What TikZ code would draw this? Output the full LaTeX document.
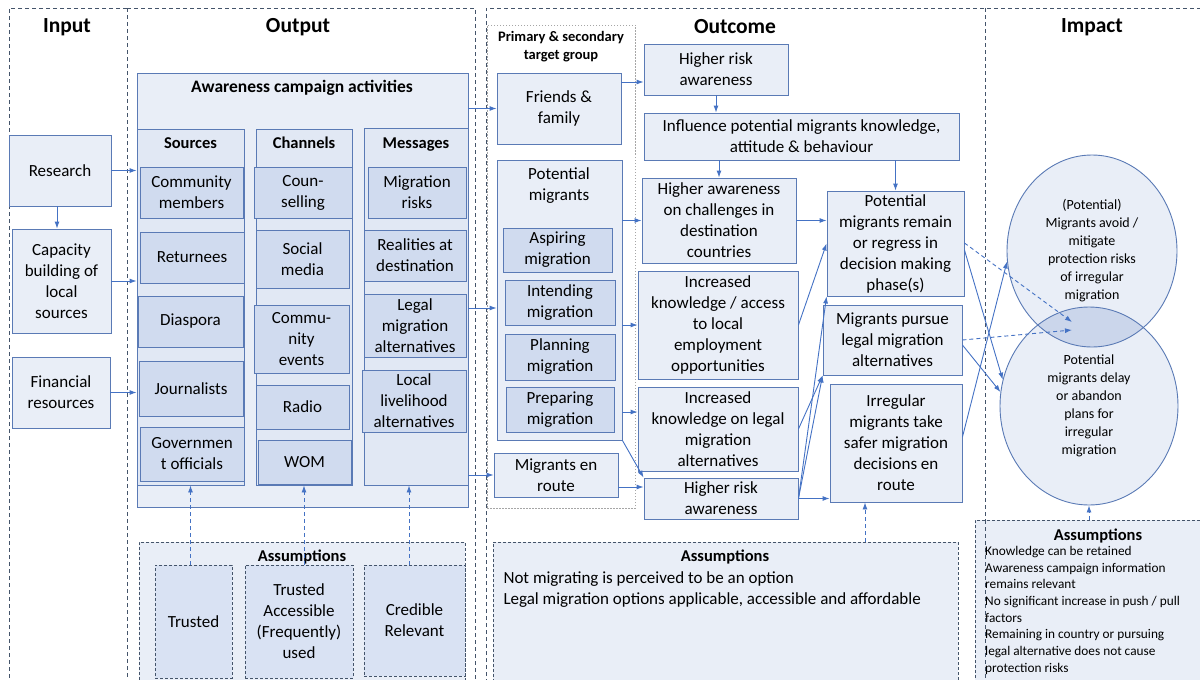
\documentclass[tikz,border=0pt]{standalone}
\usepackage{fontspec}
\setmainfont{Carlito}
\usepackage{xcolor}
\usetikzlibrary{arrows.meta}
\usetikzlibrary{shapes.geometric}

\definecolor{boxfill}{HTML}{E9EEF7}
\definecolor{colfill}{HTML}{E1E8F4}
\definecolor{itemfill}{HTML}{D0DBEF}
\definecolor{asmfill}{HTML}{D9E2F3}
\definecolor{ovlfill}{HTML}{CBD6EB}
\definecolor{boxline}{HTML}{5A7AB5}
\definecolor{arrowc}{HTML}{4472C4}
\definecolor{framec}{HTML}{44546A}

\tikzset{
  frame/.style={draw=framec, dash pattern=on 4pt off 3pt, line width=0.8pt},
  box/.style={draw=boxline, fill=boxfill, line width=0.9pt, align=center, inner xsep=1pt, inner ysep=0pt, font=\fontsize{17}{21}\selectfont},
  item/.style={box, fill=itemfill},
  col/.style={draw=boxline, fill=colfill, line width=0.9pt},
  hdr/.style={font=\fontsize{16.5}{20}\selectfont\bfseries, text height=11.5pt, text depth=3.5pt},
  ttl/.style={font=\fontsize{21.5}{25}\selectfont\bfseries},
  asm/.style={draw=framec, dash pattern=on 3pt off 2pt, fill=boxfill, line width=0.7pt},
  asmitem/.style={box, draw=framec, dash pattern=on 3pt off 2pt, fill=asmfill, line width=0.7pt},
  circ/.style={ellipse, draw=boxline, line width=0.9pt, inner sep=0pt, align=center, font=\fontsize{14}{18}\selectfont},
  arr/.style={draw=arrowc, line width=0.9pt, -{Latex[length=7pt,width=5pt]}},
  darr/.style={arr, dash pattern=on 4pt off 3pt},
  sz/.style 2 args={minimum width=#1pt, minimum height=#2pt},
}

\begin{document}
\begin{tikzpicture}[x=1pt,y=-1pt]
\useasboundingbox (0,0) rectangle (1200,680);

% column frames
\draw[frame] (127,8) -- (9,8) -- (9,690);
\draw[frame] (127,8) -- (127,690);
\draw[frame] (127,8) -- (475,8) -- (475,690);
\draw[frame] (486,690) -- (486,8) -- (1210,8);
\draw[frame] (985,8) -- (985,690);
\node[ttl] (tin) at (67,27) {Input};
\node[ttl] (tout) at (298,27) {Output};
\node[ttl] (toc) at (735,27) {Outcome};
\node[ttl] (timp) at (1092,27) {Impact};

% input
\node[box, sz={102}{71}] (research) at (60,170.5) {Research};
\node[box, sz={99}{104}] (capacity) at (61.5,281) {Capacity\\building of\\local\\sources};
\node[box, sz={98}{71}] (financial) at (61,392.5) {Financial\\resources};

% output
\node[box, sz={331}{434}] (camp) at (302.5,290) {};
\node[font=\fontsize{17.5}{20}\selectfont\bfseries] (campt) at (302,88) {Awareness campaign activities};
\node[col, sz={107}{356}] (sources) at (190.5,307) {};
\node[col, sz={96}{356}] (channels) at (304,307) {};
\node[col, sz={104}{357}] (messages) at (416,306.5) {};
\node[hdr] (srch) at (190.5,144) {Sources};
\node[hdr] (chah) at (304,144) {Channels};
\node[hdr] (mesh) at (416,144) {Messages};

\node[item, sz={103}{51}] (comm) at (191.5,192.5) {Community\\members};
\node[item, sz={104}{51}] (ret) at (192,257.5) {Returnees};
\node[item, sz={105}{51}] (dia) at (190.5,321.5) {Diaspora};
\node[item, sz={104}{55}] (jour) at (191,388.5) {Journalists};
\node[item, sz={104}{54}] (gov) at (192,454) {Governmen\\t officials};

\node[item, sz={98}{51}] (couns) at (303,192.5) {Coun-\\selling};
\node[item, sz={93}{58}] (social) at (302.5,259) {Social\\media};
\node[item, sz={95}{68}] (events) at (301.5,339) {Commu-\\nity\\events};
\node[item, sz={93}{44}] (radio) at (302.5,407) {Radio};
\node[item, sz={93}{44}] (wom) at (304.5,462) {WOM};

\node[item, sz={98}{51}] (risks) at (417,192.5) {Migration\\risks};
\node[item, sz={102}{51}] (real) at (415,255.5) {Realities at\\destination};
\node[item, sz={102}{63}] (legalalt) at (415,325.5) {Legal\\migration\\alternatives};
\node[item, sz={104}{62}] (local) at (414,401) {Local\\livelihood\\alternatives};

\node[asm, sz={326}{148}] (asm1) at (302,616) {};
\node[hdr] (asm1t) at (302,557) {Assumptions};
\node[asmitem, sz={77}{113}] (asmsrc) at (193.5,621.5) {Trusted};
\node[asmitem, sz={108}{113}] (asmchan) at (299,621.5) {Trusted\\Accessible\\(Frequently)\\used};
\node[asmitem, sz={101}{111}] (asmmsg) at (414.5,620.5) {Credible\\Relevant};

% target groups
\node[draw=gray!70, dash pattern=on 1.5pt off 1.5pt, line width=0.9pt, sz={148}{483}] (grp) at (561,266.5) {};
\node[font=\fontsize{14.5}{18}\selectfont\bfseries, align=center] (grpt) at (561,47) {Primary \& secondary\\target group};
\node[box, sz={124}{71}] (ff) at (559,108.5) {Friends \&\\family};
\node[box, sz={125}{280}] (potmig) at (559.5,300) {};
\node[align=center, font=\fontsize{17}{21}\selectfont] (potmigt) at (559,186) {Potential\\migrants};
\node[item, sz={109}{44}] (aspiring) at (557.5,250) {Aspiring\\migration};
\node[item, sz={110}{45}] (intending) at (560,302.5) {Intending\\migration};
\node[item, sz={110}{46}] (planning) at (560,357) {Planning\\migration};
\node[item, sz={108}{45}] (preparing) at (560,409.5) {Preparing\\migration};
\node[box, sz={124}{44}] (enroute) at (556,475) {Migrants en\\route};

% outcome
\node[box, sz={144}{51}] (hr1) at (716,69.5) {Higher risk\\awareness};
\node[box, sz={315}{47}] (infl) at (801.5,136.5) {Influence potential migrants knowledge,\\attitude \& behaviour};
\node[box, sz={154}{85}] (chall) at (719,220.5) {Higher awareness\\on challenges in\\destination\\countries};
\node[box, sz={160}{108}] (access) at (718,325) {Increased\\knowledge / access\\to local\\employment\\opportunities};
\node[box, sz={160}{84}] (legal) at (718,429) {Increased\\knowledge on legal\\migration\\alternatives};
\node[box, sz={154}{41}] (hr2) at (721,498.5) {Higher risk\\awareness};
\node[box, sz={137}{105}] (remain) at (895.5,243.5) {Potential\\migrants remain\\or regress in\\decision making\\phase(s)};
\node[box, sz={139}{70}] (pursue) at (892.5,340) {Migrants pursue\\legal migration\\alternatives};
\node[box, sz={132}{118}] (irregular) at (896,443) {Irregular\\migrants take\\safer migration\\decisions en\\route};

\node[asm, sz={465}{148}] (asm2) at (725.5,616) {};
\node[hdr] (asm2t) at (725,557) {Assumptions};
\node[anchor=west, align=left, font=\fontsize{17}{21}\selectfont] (asm2txt) at (500,589.5) {Not migrating is perceived to be an option\\Legal migration options applicable, accessible and affordable};

% impact
\fill[boxfill] (1092,251) ellipse [x radius=85, y radius=96];
\fill[boxfill] (1089,406) ellipse [x radius=89, y radius=99];
\begin{scope}
\clip (1092,251) ellipse [x radius=85, y radius=96];
\fill[ovlfill] (1089,406) ellipse [x radius=89, y radius=99];
\end{scope}
\node[circ, sz={170}{192}] (avoid) at (1092,251) {(Potential)\\Migrants avoid /\\mitigate\\protection risks\\of irregular\\migration};
\node[circ, sz={178}{198}] (delay) at (1089,406) {Potential\\migrants delay\\or abandon\\plans for\\irregular\\migration};
\coordinate (ov1) at (1072,322);
\coordinate (ov2) at (1072,330);

\node[asm, sz={235}{170}] (asm3) at (1092.5,605) {};
\draw[frame] (985,520) -- (985,690);
\node[hdr] (asm3t) at (1098,536) {Assumptions};
\node[anchor=north west, align=left, inner sep=0pt, font=\fontsize{13.3}{16.7}\selectfont] (asm3txt) at (985,546) {Knowledge can be retained\\Awareness campaign information\\remains relevant\\No significant increase in push / pull\\factors\\Remaining in country or pursuing\\legal alternative does not cause\\protection risks};

% arrows
\draw[arr] (research.south -| 57,0) -- (capacity.north -| 57,0);
\draw[arr] (research.east) -- (research.east -| camp.west);
\draw[arr] (capacity.east) -- (capacity.east -| camp.west);
\draw[arr] (financial.east) -- (financial.east -| camp.west);
\draw[darr] (sources.south |- asmsrc.north) -- (sources.south);
\draw[darr] (channels.south |- asmchan.north) -- (channels.south);
\draw[darr] (asmmsg.north -| 409,0) -- (messages.south -| 409,0);

\draw[arr] (camp.east |- ff.west) -- (ff.west);
\draw[arr] (camp.east |- 0,308) -- (potmig.west |- 0,308);
\draw[arr] (camp.east |- enroute.west) -- (enroute.west);

\draw[arr] (ff.east |- 0,82) -- (hr1.west |- 0,82);
\draw[arr] (hr1.south) -- (hr1.south |- infl.north);
\draw[arr] (chall.north |- infl.south) -- (chall.north);
\draw[arr] (remain.north |- infl.south) -- (remain.north);
\draw[arr] (potmig.east |- chall.west) -- (chall.west);
\draw[arr] (potmig.east |- access.west) -- (access.west);
\draw[arr] (potmig.east |- 0,412) -- (legal.west |- 0,412);
\draw[arr] (potmig.south east) -- (hr2.north west);
\draw[arr] (enroute.east |- 0,487) -- (hr2.west |- 0,487);

\draw[arr] (chall.east) -- (chall.east -| remain.west);
\draw[arr] (access.east) -- (remain.west);
\draw[arr] (legal.east) -- (pursue.south west);
\draw[arr] (hr2.east) -- (pursue.south west);
\draw[arr] (hr2.east) -- (remain.south west);
\draw[arr] (hr2.east) -- (hr2.east -| irregular.west);
\draw[darr] (asm2.north -| 865,0) -- (irregular.south -| 865,0);

\draw[darr] (remain.east |- 0,243) -- (ov1);
\draw[arr] (remain.east |- 0,250) -- (delay.163);
\draw[darr] (pursue.east) -- (ov2);
\draw[arr] (pursue.east |- 0,345) -- (delay.171);
\draw[arr] (irregular.east |- 0,437) -- (avoid.187);
\draw[darr] (asm3.north -| delay.south) -- (delay.south);
\end{tikzpicture}
\end{document}
